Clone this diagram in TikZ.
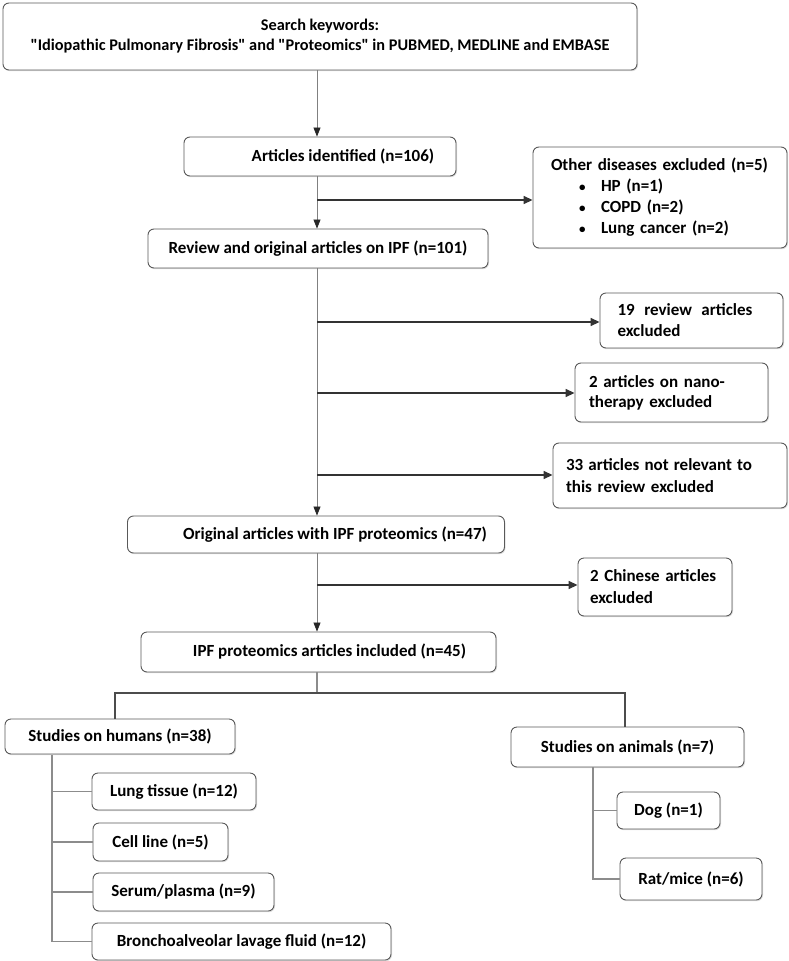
\documentclass[tikz,border=0pt]{standalone}
\usepackage{fontspec}
\setmainfont{Carlito}
\newfontfamily\qf{Carlito}[Ligatures=TeXOff]
\usetikzlibrary{arrows.meta,calc,shadows}
\newcommand{\bul}[1]{\leavevmode\hbox to 28pt{}\hbox to 22pt{\fontsize{13}{13}\selectfont\textbullet\hfill}#1}
\newcommand{\sq}{{\qf\bfseries\char34}}
\tikzset{
  x=1pt,y=-1pt,
  box/.style={draw=black!65,line width=0.9pt,rounded corners=6pt,fill=white,
    inner sep=0pt,align=center,font=\fontsize{17}{20}\selectfont\bfseries,
    drop shadow={opacity=0.25,shadow xshift=1pt,shadow yshift=-1.2pt}},
  trunk/.style={draw=black!50,line width=0.8pt,-{Triangle[length=9pt,width=7pt,color=black!85]}},
  side/.style={draw=black!80,line width=1.6pt,-{Triangle[length=9pt,width=8pt]}},
  tree/.style={draw=black!70,line width=1.3pt},
  branch/.style={draw=black!45,line width=1.1pt},
}
\begin{document}
\begin{tikzpicture}
\useasboundingbox (0,0) rectangle (789,961);
% boxes
\node[box,minimum width=634pt,minimum height=67pt,font=\fontsize{16.3}{20}\selectfont\bfseries] (top) at (320,36.5)
  {Search keywords:\\\sq Idiopathic Pulmonary Fibrosis\sq{} and \sq Proteomics\sq{} in PUBMED, MEDLINE and EMBASE};
\node[box,minimum width=272pt,minimum height=39pt] (ident) at (320,156.5)
  {\hspace*{46pt}Articles identified (n=106)};
\node[box,minimum width=254pt,minimum height=101pt,align=left,text width=218pt,
      font=\fontsize{17}{21}\selectfont\bfseries] (other) at (660,197.5)
  {Other diseases excluded (n=5)\\
   \bul{HP (n=1)}\\
   \bul{COPD (n=2)}\\
   \bul{Lung cancer (n=2)}};
\node[box,minimum width=340pt,minimum height=39pt] (review) at (318,248.5)
  {Review and original articles on IPF (n=101)};
\node[box,minimum width=183pt,minimum height=55pt,align=left,text width=148pt,
      font=\fontsize{17}{21}\selectfont\bfseries] (rev19) at (691.5,320.5)
  {\hbox to 135pt{19\hfill review\hfill articles}\\excluded};
\node[box,minimum width=193pt,minimum height=59pt,align=left,text width=165pt,
      font=\fontsize{17}{20}\selectfont\bfseries] (nano) at (671.5,392.5)
  {2 articles on nano-\\therapy excluded};
\node[box,minimum width=234pt,minimum height=65pt,align=left,text width=208pt,
      font=\fontsize{17}{22}\selectfont\bfseries] (rel33) at (670,475.5)
  {\hbox to 186pt{33\hfill articles\hfill not\hfill relevant\hfill to}\\this review excluded};
\node[box,minimum width=377pt,minimum height=37pt] (orig) at (316,534.5)
  {\hspace*{38pt}Original articles with IPF proteomics (n=47)};
\node[box,minimum width=154pt,minimum height=58pt,align=left,text width=130pt,
      font=\fontsize{17}{22}\selectfont\bfseries] (chinese) at (655,587)
  {2 Chinese articles\\excluded};
\node[box,minimum width=355pt,minimum height=40pt] (ipf) at (318.5,652)
  {\hspace*{22pt}IPF proteomics articles included (n=45)};
\node[box,minimum width=230pt,minimum height=35pt] (humans) at (120,736.5)
  {Studies on humans (n=38)};
\node[box,minimum width=233pt,minimum height=40pt] (animals) at (627.5,747)
  {Studies on animals (n=7)};
\node[box,minimum width=164pt,minimum height=37pt] (lung) at (174,791.5)
  {Lung tissue (n=12)};
\node[box,minimum width=135pt,minimum height=38pt] (cell) at (160.5,842)
  {Cell line (n=5)};
\node[box,minimum width=181pt,minimum height=38pt] (serum) at (183.5,892)
  {Serum/plasma (n=9)};
\node[box,minimum width=299pt,minimum height=37pt] (bal) at (241.5,941.5)
  {Bronchoalveolar lavage fluid (n=12)};
\node[box,minimum width=103pt,minimum height=37pt] (dog) at (668.5,810.5)
  {Dog (n=1)};
\node[box,minimum width=142pt,minimum height=42pt] (rat) at (691,879)
  {Rat/mice (n=6)};
% trunk coordinates
\coordinate (t0) at (317,0);
\coordinate (c1) at (317,200);
\coordinate (c2) at (317,322);
\coordinate (c3) at (317,393);
\coordinate (c4) at (317,475);
\coordinate (c5) at (317,585);
\coordinate (sp) at (317,693);
\coordinate (hsp) at (115,693);
\coordinate (asp) at (625,693);
\coordinate (hx) at (52,755);
\coordinate (ax) at (593,767);
% main trunk
\draw[trunk] (top.south -| t0) -- (ident.north -| t0);
\draw[trunk] (ident.south -| t0) -- (review.north -| t0);
\draw[trunk] (review.south -| t0) -- (orig.north -| t0);
\draw[trunk] (orig.south -| t0) -- (ipf.north -| t0);
% side arrows
\draw[side] (c1) -- (other.west |- c1);
\draw[side] (c2) -- (rev19.west |- c2);
\draw[side] (c3) -- (nano.west |- c3);
\draw[side] (c4) -- (rel33.west |- c4);
\draw[side] (c5) -- (chinese.west |- c5);
% split
\draw[branch] (ipf.south -| sp) -- (sp);
\draw[tree] (humans.north -| hsp) -- (hsp) -- (asp) -- (animals.north -| asp);
% humans branches
\draw[branch] (hx) |- (lung.west);
\draw[branch] (hx) |- (cell.west);
\draw[branch] (hx) |- (serum.west);
\draw[branch] (hx) |- (bal.west);
% animals branches
\draw[branch] (ax) |- (dog.west);
\draw[branch] (ax) |- (rat.west);
\end{tikzpicture}
\end{document}
